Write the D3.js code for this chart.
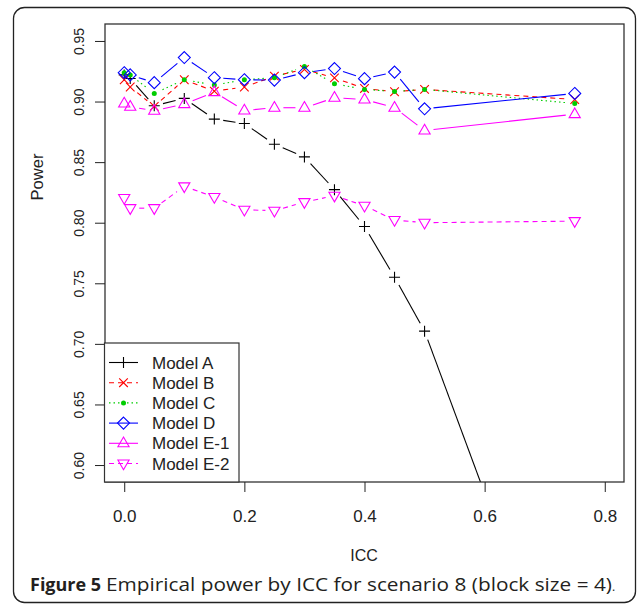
<!DOCTYPE html>
<html>
<head>
<meta charset="utf-8">
<script src="https://cdn.jsdelivr.net/npm/d3@7"></script>
<style>
body { margin: 0; background: #fff; }
text { font-family: "Liberation Sans", Arial, sans-serif; }
</style>
</head>
<body>
<div id="container"></div>
<script>
var WIDTH = 637,
	HEIGHT = 606,
	PLOT_LEFT = 105,
	PLOT_RIGHT = 624,
	PLOT_TOP = 24,
	PLOT_BOTTOM = 482,
	GAP = 9;

// data
var icc = [0, 0.01, 0.05, 0.1, 0.15, 0.2, 0.25, 0.3, 0.35, 0.4, 0.45, 0.5, 0.75];
var modelA = [0.922, 0.919, 0.8965, 0.9026, 0.8855, 0.8819, 0.8647, 0.8543, 0.8273, 0.7969, 0.755, 0.7105, 0.376];
var modelB = [0.918, 0.912, 0.896, 0.918, 0.9086, 0.912, 0.921, 0.9266, 0.9195, 0.9108, 0.9081, 0.910, 0.9017];
var modelC = [0.9238, 0.9219, 0.9067, 0.918, 0.9136, 0.918, 0.9197, 0.929, 0.9147, 0.910, 0.9083, 0.910, 0.8984];
var modelD = [0.9238, 0.922, 0.9156, 0.9363, 0.9197, 0.918, 0.9177, 0.9238, 0.9272, 0.9189, 0.9243, 0.894, 0.9067];
var modelE1 = [0.8984, 0.8957, 0.8924, 0.8979, 0.9078, 0.8926, 0.8949, 0.8949, 0.9031, 0.9017, 0.8949, 0.8761, 0.8896];
var modelE2 = [0.8204, 0.812, 0.812, 0.830, 0.8212, 0.8107, 0.8099, 0.817, 0.8223, 0.814, 0.8022, 0.800, 0.8013];

var seriesNames = ['Model A', 'Model B', 'Model C', 'Model D', 'Model E-1', 'Model E-2'];
var seriesValues = [modelA, modelB, modelC, modelD, modelE1, modelE2];
var seriesColors = ['#000000', '#ff0000', '#00cd00', '#0000ff', '#ff00ff', '#ff00ff'];
var seriesDash = [null, '5,4', '1.5,3', null, null, '5,4'];
var seriesShape = ['plus', 'cross', 'dot', 'diamond', 'up', 'down'];

var xTicks = [0, 0.2, 0.4, 0.6, 0.8];
var yTicks = [0.60, 0.65, 0.70, 0.75, 0.80, 0.85, 0.90, 0.95];

var xScale = d3.scaleLinear().domain([-0.032, 0.832]).range([PLOT_LEFT, PLOT_RIGHT]);
var yScale = d3.scaleLinear().domain([0.586, 0.964]).range([PLOT_BOTTOM, PLOT_TOP]);

function markerPath(shape) {
	if (shape == 'plus') return 'M-5.5,0H5.5M0,-5.5V5.5';
	if (shape == 'cross') return 'M-4.3,-4.3L4.3,4.3M-4.3,4.3L4.3,-4.3';
	if (shape == 'diamond') return 'M0,-6L6,0L0,6L-6,0Z';
	if (shape == 'up') return 'M0,-6.2L5.6,3.5L-5.6,3.5Z';
	if (shape == 'down') return 'M0,6.2L5.6,-3.5L-5.6,-3.5Z';
	return null;
}

function drawMarker(g, shape, color, x, y) {
	if (shape == 'dot') {
		g.append('circle').attr('cx', x).attr('cy', y).attr('r', 2.5).attr('fill', color);
		return;
	}
	g.append('path')
		.attr('transform', 'translate(' + x + ',' + y + ')')
		.attr('d', markerPath(shape))
		.attr('fill', 'none')
		.attr('stroke', color)
		.attr('stroke-width', 1.1);
}

// R type="b": segments stop short of each point
function drawSeries(g, values, i) {
	var pts = icc.map(function(d, k) { return [xScale(d), yScale(values[k])]; });
	for (var k = 0; k < pts.length - 1; k++) {
		var dx = pts[k + 1][0] - pts[k][0], dy = pts[k + 1][1] - pts[k][1];
		var len = Math.sqrt(dx * dx + dy * dy);
		if (len <= 2 * GAP) continue;
		var ux = dx / len, uy = dy / len;
		g.append('line')
			.attr('x1', pts[k][0] + ux * GAP).attr('y1', pts[k][1] + uy * GAP)
			.attr('x2', pts[k + 1][0] - ux * GAP).attr('y2', pts[k + 1][1] - uy * GAP)
			.attr('stroke', seriesColors[i])
			.attr('stroke-width', 1.1)
			.attr('stroke-dasharray', seriesDash[i]);
	}
	pts.forEach(function(p) { drawMarker(g, seriesShape[i], seriesColors[i], p[0], p[1]); });
}

function drawAxis(svg) {
	var xAxis = d3.axisBottom(xScale).tickValues(xTicks).tickSize(10).tickSizeOuter(0)
		.tickFormat(d3.format('.1f'));
	var gx = svg.append('g').attr('transform', 'translate(0,' + PLOT_BOTTOM + ')').call(xAxis);
	gx.select('.domain').remove();
	gx.selectAll('line').attr('stroke', '#222');
	gx.selectAll('text').attr('y', 0).attr('dy', null)
		.attr('transform', 'translate(0,40)')
		.style('font-size', '17px').attr('fill', '#222');

	var yAxis = d3.axisLeft(yScale).tickValues(yTicks).tickSize(10).tickSizeOuter(0)
		.tickFormat(d3.format('.2f'));
	var gy = svg.append('g').attr('transform', 'translate(' + PLOT_LEFT + ',0)').call(yAxis);
	gy.select('.domain').remove();
	gy.selectAll('line').attr('stroke', '#222');
	gy.selectAll('text')
		.attr('x', 0).attr('dy', null)
		.attr('transform', 'translate(-21,0) rotate(-90)')
		.attr('text-anchor', 'middle')
		.style('font-size', '14px').attr('fill', '#222');

	svg.append('text').attr('x', 364).attr('y', 561).attr('text-anchor', 'middle')
		.style('font-size', '16px').attr('fill', '#222').text('ICC');
	svg.append('text').attr('transform', 'translate(43,177) rotate(-90)').attr('text-anchor', 'middle')
		.style('font-size', '16.5px').attr('fill', '#222').text('Power');
}

function drawLegend(svg) {
	var lg = svg.append('g');
	lg.append('rect').attr('x', 104.5).attr('y', 343).attr('width', 134.5).attr('height', 139)
		.attr('fill', '#fff').attr('stroke', '#333').attr('stroke-width', 1.2);
	seriesNames.forEach(function(name, i) {
		var y = 362.5 + i * 20.2;
		lg.append('line').attr('x1', 109).attr('x2', 138).attr('y1', y).attr('y2', y)
			.attr('stroke', seriesColors[i]).attr('stroke-width', 1.1)
			.attr('stroke-dasharray', seriesDash[i]);
		drawMarker(lg, seriesShape[i], seriesColors[i], 123.5, y);
		lg.append('text').attr('x', 152).attr('y', y + 6).style('font-size', '17px')
			.attr('fill', '#222').text(name);
	});
}

function drawChart() {
	var svg = d3.select('#container').append('svg')
		.attr('width', WIDTH).attr('height', HEIGHT);

	svg.append('rect').attr('x', 13.5).attr('y', 7.5).attr('width', 622).attr('height', 595)
		.attr('rx', 11).attr('fill', 'none').attr('stroke', '#222').attr('stroke-width', 1.3);

	svg.append('clipPath').attr('id', 'plotClip').append('rect')
		.attr('x', PLOT_LEFT).attr('y', PLOT_TOP)
		.attr('width', PLOT_RIGHT - PLOT_LEFT).attr('height', PLOT_BOTTOM - PLOT_TOP);

	var plot = svg.append('g').attr('clip-path', 'url(#plotClip)');
	seriesValues.forEach(function(values, i) { drawSeries(plot, values, i); });

	svg.append('rect').attr('x', PLOT_LEFT).attr('y', PLOT_TOP)
		.attr('width', PLOT_RIGHT - PLOT_LEFT).attr('height', PLOT_BOTTOM - PLOT_TOP)
		.attr('fill', 'none').attr('stroke', '#333').attr('stroke-width', 1.3);

	drawAxis(svg);
	drawLegend(svg);

	var cap = svg.append('text').attr('x', 30).attr('y', 591)
		.style('font-family', '"Open Sans", sans-serif').style('font-size', '18px').attr('fill', '#231f20');
	cap.append('tspan').style('font-weight', 'bold').text('Figure 5');
	cap.append('tspan').attr('x', 106).attr('textLength', 506).attr('lengthAdjust', 'spacingAndGlyphs')
		.style('font-size', '19px')
		.text('Empirical power by ICC for scenario 8 (block size = 4)');
	cap.append('tspan').style('font-size', '12px').text('.');
}

window.onload = function() {
	drawChart();
};
</script>
</body>
</html>
